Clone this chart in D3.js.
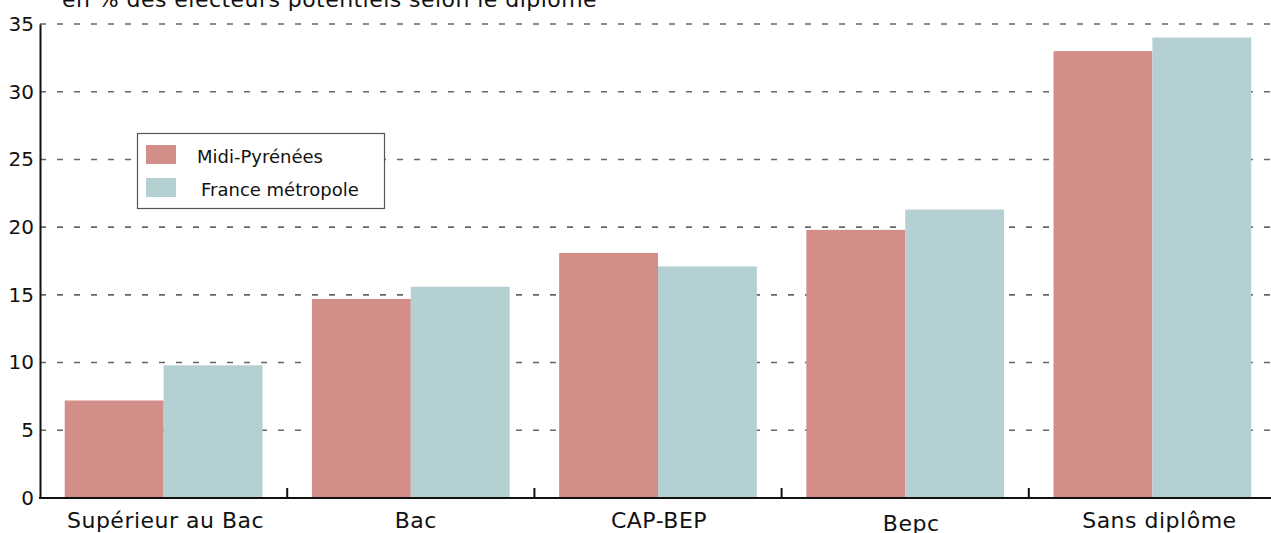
<!DOCTYPE html>
<html><head><meta charset="utf-8">
<script src="https://cdn.jsdelivr.net/npm/d3@7"></script>
<style>body{margin:0;background:#fff}svg{display:block}text{font-family:"DejaVu Sans",Verdana,sans-serif;fill:#111}</style>
</head><body><svg id="c" width="1271" height="533"></svg>
<script>
const title = "en % des électeurs potentiels selon le diplôme";
const categories = ["Supérieur au Bac","Bac","CAP-BEP","Bepc","Sans diplôme"];
const seriesNames = ["Midi-Pyrénées","France métropole"];
const midiPyrenees = [7.2,14.7,18.1,19.8,33.0];
const franceMetropole = [9.8,15.6,17.1,21.3,34.0];
const yTicks = [0,5,10,15,20,25,30,35];
const colors = ["#d38e8a","#b5d0d2"];

const svg = d3.select("#c");
const X0 = 40, X1 = 1276, Y0 = 498, Y1 = 24;
const x = d3.scaleBand().domain(categories).range([X0, X1]).padding(0);
const xs = d3.scaleBand().domain(seriesNames).range([0, x.bandwidth()]).paddingInner(0).paddingOuter(0.25);
const y = d3.scaleLinear().domain([0,35]).range([Y0, Y1]);

// gridlines
svg.append("g").selectAll("line").data(yTicks.filter(d=>d>0)).join("line")
  .attr("x1", X0).attr("x2", 1271).attr("y1", d=>y(d)).attr("y2", d=>y(d))
  .attr("stroke","#666").attr("stroke-width",1.6).attr("stroke-dasharray","6,11");

// bars
const series = [midiPyrenees, franceMetropole];
const g = svg.append("g");
series.forEach((vals,si)=>{
  g.selectAll(null).data(categories).join("rect")
   .attr("x", (c)=>x(c)+xs(seriesNames[si]))
   .attr("width", xs.bandwidth())
   .attr("y", (c,i)=>y(vals[i]))
   .attr("height", (c,i)=>Y0 - y(vals[i]))
   .attr("fill", colors[si]);
});

// y axis
const yAxis = d3.axisLeft(y).tickValues(yTicks).tickSize(0).tickPadding(6).tickFormat(d3.format("d"));
const ya = svg.append("g").attr("transform",`translate(${X0},0)`).call(yAxis);
ya.select(".domain").attr("stroke","#111").attr("stroke-width",2);
ya.selectAll("text").style("font-size","20px").style("font-family","DejaVu Sans").attr("fill","#111");

// x axis
const xa = svg.append("g").attr("transform",`translate(0,${Y0})`);
xa.append("line").attr("x1",X0-1).attr("x2",1271).attr("stroke","#111").attr("stroke-width",2);
xa.selectAll("line.t").data(categories.slice(1)).join("line").attr("class","t")
  .attr("x1",d=>x(d)).attr("x2",d=>x(d)).attr("y1",0).attr("y2",-10).attr("stroke","#111").attr("stroke-width",2);
const labOff = [2,5,1,6,7];
const labY = [30,30,30,33,30];
xa.selectAll("text").data(categories).join("text")
  .attr("x",(d,i)=>x(d)+x.bandwidth()/2+labOff[i]).attr("y",(d,i)=>labY[i])
  .attr("text-anchor","middle").style("font-size","22px").style("letter-spacing","0.5px").text(d=>d);

// title
svg.append("text").attr("x",62).attr("y",7).style("font-size","22px").style("letter-spacing","0.45px").text(title);

// legend
const lg = svg.append("g");
lg.append("rect").attr("x",137.5).attr("y",133.5).attr("width",247).attr("height",75)
  .attr("fill","#fff").attr("stroke","#555").attr("stroke-width",1.2);
seriesNames.forEach((n,i)=>{
  lg.append("rect").attr("x",146).attr("y",145+i*33).attr("width",30).attr("height",19).attr("fill",colors[i]);
  lg.append("text").attr("x",197+i*4).attr("y",163+i*33).style("font-size","18px").text(n);
});
</script></body></html>
